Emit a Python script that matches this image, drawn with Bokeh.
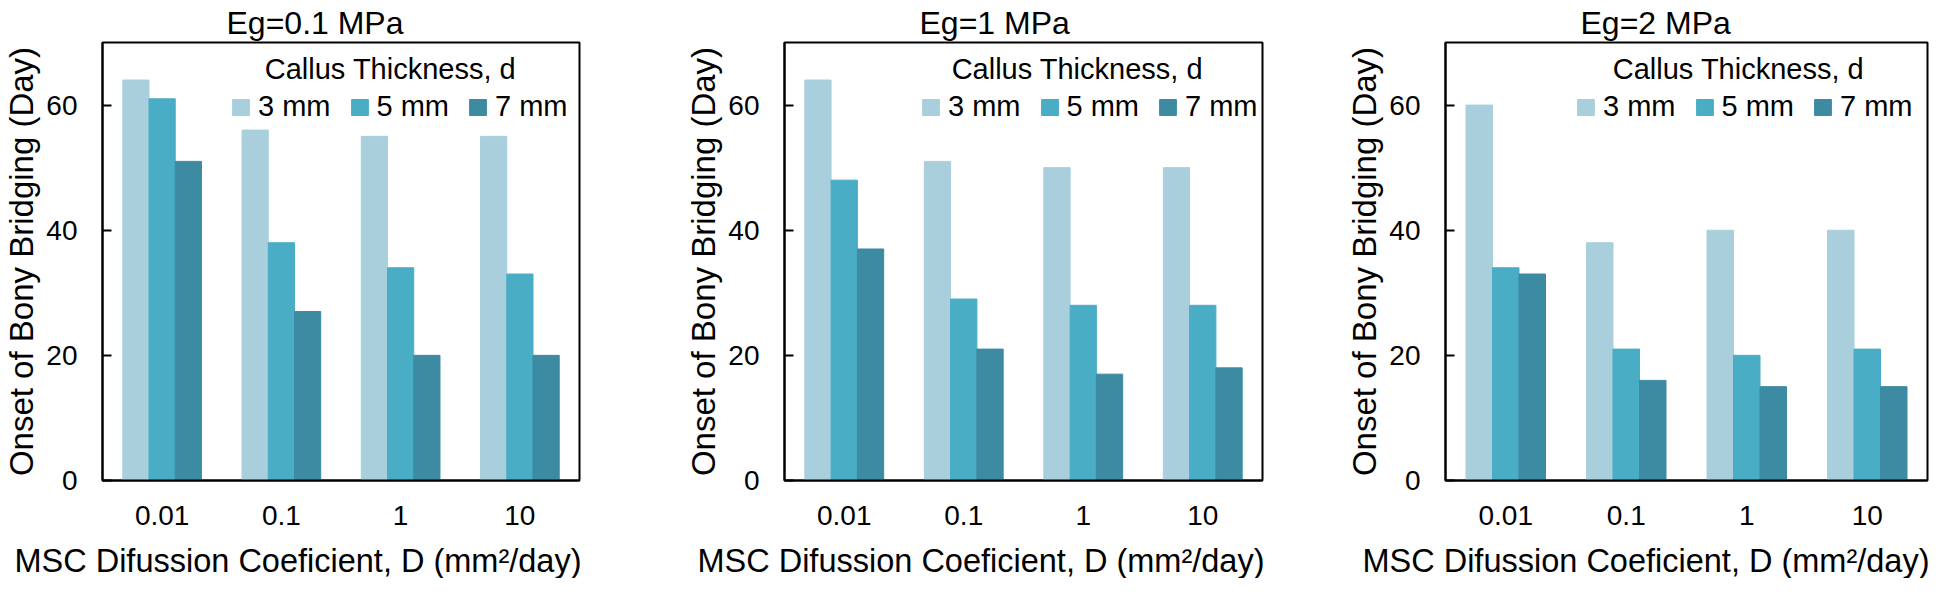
from bokeh.plotting import figure
from bokeh.models import (Range1d, FactorRange, Legend, LegendItem, Label, Title,
                          ColumnDataSource)
from bokeh.transform import dodge
from bokeh.layouts import row
from bokeh.embed import file_html
from bokeh.resources import INLINE

# ---------------- data ----------------
D_labels = ["0.01", "0.1", "1", "10"]
thickness = ["3 mm", "5 mm", "7 mm"]
eg_titles = ["Eg=0.1 MPa", "Eg=1 MPa", "Eg=2 MPa"]

eg01_3mm = [64, 56, 55, 55]
eg01_5mm = [61, 38, 34, 33]
eg01_7mm = [51, 27, 20, 20]

eg1_3mm = [64, 51, 50, 50]
eg1_5mm = [48, 29, 28, 28]
eg1_7mm = [37, 21, 17, 18]

eg2_3mm = [60, 38, 40, 40]
eg2_5mm = [34, 21, 20, 21]
eg2_7mm = [33, 16, 15, 15]

y_ticks = [0, 20, 40, 60]
x_label = "MSC Difussion Coeficient, D (mm\u00b2/day)"
y_label = "Onset of Bony Bridging (Day)"
legend_title = "Callus Thickness, d"

# ---------------- style ----------------
colors = ["#A9CFDC", "#4AADC6", "#3C8BA3"]
FONT = "Liberation Sans"
H = 578
LEG_W = 338


def set_xlabel(p, xa):
    # small invisible spacer below the tick labels, then a right-aligned title
    xa.axis_label = " "
    xa.axis_label_standoff = 0
    xa.axis_label_text_font_size = "9px"
    p.add_layout(Title(text=x_label, align="right", offset=-2, text_font=FONT,
                       text_font_size="32.5px", text_font_style="normal",
                       text_color="black", standoff=0), "below")


def make_panel(title, series, width, bl, br, title_left, leg_right):
    frame_w = width - bl - br
    p = figure(x_range=FactorRange(*D_labels), y_range=Range1d(0, 70),
               width=width, height=H, output_backend="svg",
               toolbar_location=None, min_border_left=bl, min_border_right=br,
               min_border_top=0, min_border_bottom=0)
    p.x_range.range_padding = 0
    src = ColumnDataSource(dict(D=D_labels, t3=series[0], t5=series[1], t7=series[2]))
    items = []
    for key, off, col, lab in zip(["t3", "t5", "t7"], [-0.22, 0.0, 0.22], colors, thickness):
        r = p.vbar(x=dodge("D", off, range=p.x_range), top=key, width=0.22,
                   source=src, fill_color=col, line_color=col, line_width=1)
        items.append(LegendItem(label=lab, renderers=[r]))

    p.title.text = title
    p.title.align = "left"
    p.title.offset = title_left
    p.title.text_font = FONT
    p.title.text_font_size = "32px"
    p.title.text_font_style = "normal"
    p.title.text_color = "black"
    p.title.standoff = 4

    p.xgrid.visible = False
    p.ygrid.visible = False
    p.outline_line_color = "black"
    p.outline_line_width = 2
    p.outline_line_alpha = 1
    p.background_fill_color = "white"
    p.border_fill_color = "white"

    ya = p.yaxis[0]
    ya.ticker = y_ticks
    ya.major_tick_in = 9
    ya.major_tick_out = 0
    ya.minor_tick_line_color = None
    ya.major_tick_line_width = 2
    ya.axis_line_width = 2
    ya.axis_line_color = "black"
    ya.major_tick_line_color = "black"
    ya.major_label_text_font = FONT
    ya.major_label_text_font_size = "28px"
    ya.major_label_text_color = "black"
    ya.major_label_standoff = 25
    ya.axis_label = y_label
    ya.axis_label_text_font = FONT
    ya.axis_label_text_font_size = "33px"
    ya.axis_label_text_font_style = "normal"
    ya.axis_label_text_color = "black"
    ya.axis_label_standoff = 3

    xa = p.xaxis[0]
    xa.major_tick_line_color = None
    xa.minor_tick_line_color = None
    xa.axis_line_width = 2
    xa.axis_line_color = "black"
    xa.major_label_text_font = FONT
    xa.major_label_text_font_size = "28px"
    xa.major_label_text_color = "black"
    xa.major_label_standoff = 19
    set_xlabel(p, xa)

    legend = Legend(items=items, orientation="horizontal",
                    location=(frame_w - leg_right - LEG_W, 357),
                    border_line_alpha=0, background_fill_alpha=0,
                    padding=0, margin=0, spacing=18, glyph_width=21,
                    glyph_height=20, label_standoff=7, label_height=20,
                    label_text_font=FONT, label_text_font_size="29px",
                    label_text_color="black")
    p.add_layout(legend)

    lx = (frame_w - leg_right - 175) / frame_w * len(D_labels)
    p.add_layout(Label(x=lx, y=65.7, text=legend_title, text_align="center",
                       text_baseline="middle", text_font=FONT,
                       text_font_size="29px", text_color="black"))
    return p


p1 = make_panel(eg_titles[0], [eg01_3mm, eg01_5mm, eg01_7mm], 682, 97, 103, 124, 16)
p2 = make_panel(eg_titles[1], [eg1_3mm, eg1_5mm, eg1_7mm], 650, 92, 70, 135, 14)
p3 = make_panel(eg_titles[2], [eg2_3mm, eg2_5mm, eg2_7mm], 598, 113, 3, 135, 14)

layout = row(p1, p2, p3)
open("out.html", "w").write(file_html(layout, INLINE))
